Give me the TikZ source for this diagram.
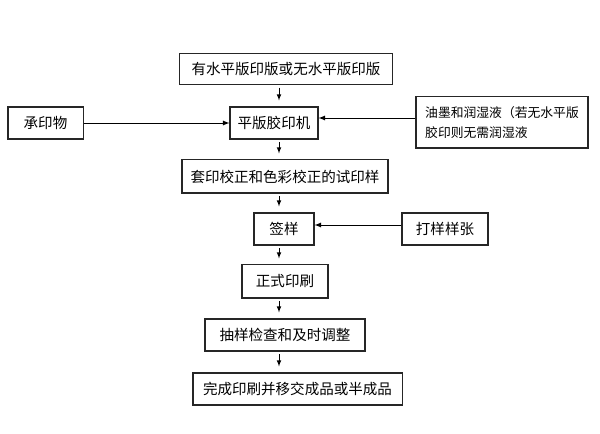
\documentclass[tikz,border=0pt]{standalone}
\usepackage{fontspec}
\setmainfont{Noto Sans CJK SC}
\usetikzlibrary{positioning}
\usetikzlibrary{calc}

\begin{document}
\begin{tikzpicture}[x=0.75pt, y=-0.75pt,
    box/.style={draw=black!85, line width=0.8pt, inner sep=0pt,
        font=\fontsize{10.9}{13}\selectfont},
    down/.style={-latex, line width=0.6pt, shorten <=2pt, shorten >=4.5pt},
    side/.style={-latex, line width=0.7pt}]
    \useasboundingbox (0,0) rectangle (600,434);
    \coordinate (spine) at (279,0);
    \node[box, minimum width=159.8pt, minimum height=23.3pt] (plate) at (286,69)
    {有水平版印版或无水平版印版};
    \node[box, minimum width=66pt, minimum height=24pt] (press) at (274,123)
    {平版胶印机};
    \node[box, minimum width=56.3pt, minimum height=24pt] (sub) at (45.5,123)
    {承印物\hspace{6pt}};
    \node[box, minimum width=129pt, minimum height=38.3pt, align=left,
        font=\fontsize{9.6}{15}\selectfont] (ink) at (502,122.5)
    {油墨和润湿液（若无水平版\\胶印则无需润湿液\hspace{50pt}};
    \node[box, minimum width=154.5pt, minimum height=24.8pt] (proof) at (285,176.5)
    {套印校正和色彩校正的试印样};
    \node[box, minimum width=45pt, minimum height=24pt] (sign) at (284,229)
    {签样\hspace{6pt}};
    \node[box, minimum width=64.5pt, minimum height=24pt] (sample) at (445,229)
    {打样样张};
    \node[box, minimum width=64.5pt, minimum height=24.8pt] (formal) at (285,281.5)
    {正式印刷};
    \node[box, minimum width=120pt, minimum height=24pt] (check) at (285,335)
    {抽样检查和及时调整};
    \node[box, minimum width=156.8pt, minimum height=24pt] (finish) at (297.5,389)
    {完成印刷并移交成品或半成品};
    \coordinate (inkin) at (416,118);
    \coordinate (samplein) at (402,225);
    % main line
    \draw[down] (plate.south -| spine) -- (press.north -| spine);
    \draw[down] (press.south -| spine) -- (proof.north -| spine);
    \draw[down] (proof.south -| spine) -- (sign.north -| spine);
    \draw[down] (sign.south -| spine) -- (formal.north -| spine);
    \draw[down] (formal.south -| spine) -- (check.north -| spine);
    \draw[down] (check.south -| spine) -- (finish.north -| spine);
    % side inputs
    \draw[side] (sub) -- (press);
    \draw[side] (ink.west |- inkin) -- (press.east |- inkin);
    \draw[side] (sample.west |- samplein) -- (sign.east |- samplein);
\end{tikzpicture}
\end{document}
